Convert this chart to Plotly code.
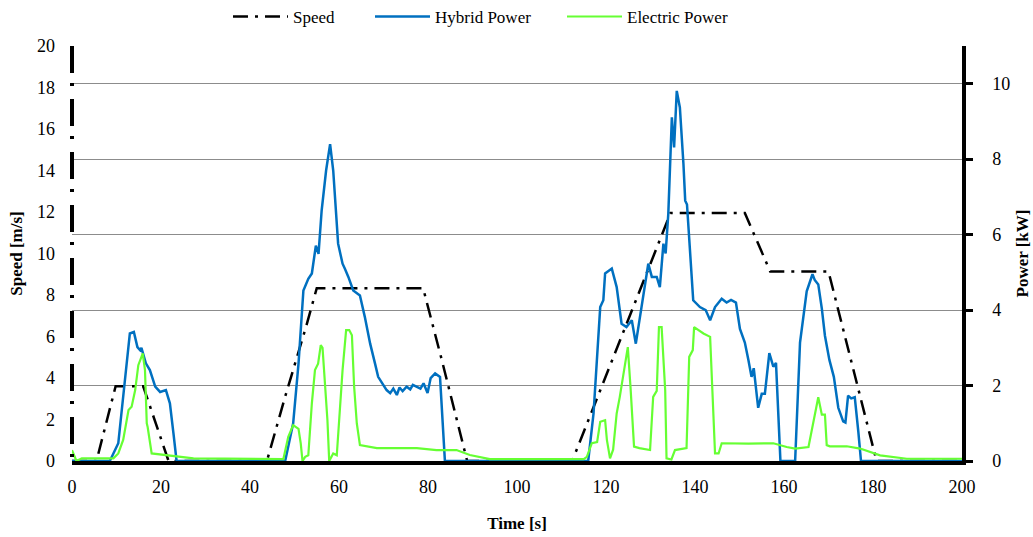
import plotly.graph_objects as go

# ---------------- data ----------------
speed_t = [0, 5.5, 9.8, 16.0, 21.7, 43.8, 47.9, 52.7, 55.0, 78.9, 83.1, 88.8,
           112.4, 134.5, 151.2, 156.9, 170.0, 180.8, 200]
speed_v = [0, 0, 3.6, 3.6, 0, 0, 3.1, 6.55, 8.33, 8.33, 4.87, 0,
           0, 11.95, 11.95, 9.13, 9.13, 0, 0]

hyb_t = [0, 8.5, 10.4, 11.9, 13.0, 13.9, 14.7, 15.3, 15.6, 16.6, 17.5, 18.7, 19.8,
         21.1, 22.0, 22.8, 23.5, 47.9, 49.7, 50.9, 52.0, 53.1, 53.9, 54.8, 55.4,
         56.1, 57.1, 58.0, 58.7, 59.8, 60.8, 61.3, 62.1, 63.2, 64.7, 65.8, 67.0,
         68.1, 68.8, 70.7, 71.5, 72.2, 73.0, 73.6, 74.3, 75.2, 76.0, 76.6, 77.5,
         78.3, 79.0, 79.9, 80.6, 81.6, 82.7, 83.4, 83.8, 116.0, 117.2, 118.7,
         119.4, 119.8, 121.3, 122.4, 123.5, 124.6, 125.8, 126.7, 128.0, 129.5,
         130.3, 131.4, 132.1, 132.9, 133.4, 134.0, 134.8, 135.3, 135.9, 136.6,
         137.4, 137.8, 138.2, 139.6, 141.1, 142.4, 143.4, 144.5, 146.0, 147.1,
         148.1, 149.2, 150.1, 151.2, 152.0, 152.7, 153.2, 154.2, 155.0, 155.7,
         156.7, 157.6, 158.2, 159.2, 162.5, 163.6, 165.1, 166.4, 166.9, 167.7,
         168.5, 169.2, 170.2, 171.2, 172.2, 173.3, 173.8, 174.4, 175.1, 175.9,
         176.7, 177.3, 200]
hyb_p = [0, 0, 0.47, 2.14, 3.38, 3.42, 3.02, 2.94, 3.0, 2.59, 2.41, 1.97, 1.83,
         1.88, 1.53, 0.73, 0, 0, 1.0, 2.58, 4.52, 4.83, 4.97, 5.71, 5.49,
         6.64, 7.7, 8.4, 7.7, 5.76, 5.23, 5.1, 4.88, 4.52, 4.39, 3.82, 3.11,
         2.58, 2.23, 1.88, 1.8, 1.92, 1.75, 1.95, 1.85, 1.97, 1.9, 2.02, 1.97,
         1.92, 2.06, 1.8, 2.2, 2.32, 2.23, 0.82, 0, 0, 1.26, 4.08,
         4.26, 4.97, 5.1, 4.61, 3.64, 3.55, 3.73, 3.11, 4.08, 5.23,
         4.88, 4.88, 4.61, 5.76, 5.5, 6.55, 9.11, 8.31, 9.81, 9.37,
         7.88, 6.9, 6.8, 4.26, 4.08, 4.0, 3.73, 4.08, 4.3, 4.2,
         4.27, 4.2, 3.5, 3.14, 2.68, 2.23, 2.46, 1.41, 1.78, 1.78,
         2.86, 2.5, 2.6, 0, 0, 3.14, 4.5, 4.95, 4.8, 4.68,
         4.04, 3.32, 2.68, 2.23, 1.41, 1.05, 1.02, 1.73, 1.66, 1.69,
         0.78, 0, 0]

ele_t = [0, 1.0, 2.2, 9.3, 10.4, 11.5, 12.7, 13.4, 14.2, 14.9, 15.9, 16.4, 16.8,
         17.0, 17.9, 27.3, 47.5, 48.6, 49.7, 50.9, 51.4, 51.8, 52.4, 53.1, 53.9,
         54.6, 55.3, 55.9, 56.3, 56.9, 57.4, 57.8, 58.7, 59.5, 60.2, 60.8, 61.6,
         62.3, 62.9, 63.4, 64.0, 64.7, 68.5, 73.7, 77.5, 81.9, 86.4, 89.4, 93.9,
         115.0, 115.7, 116.8, 118.0, 118.7, 119.8, 120.2, 120.9, 121.6, 122.4,
         123.1, 123.9, 124.9, 125.5, 126.3, 127.5, 129.9, 130.6, 131.4, 131.9,
         132.5, 133.3, 133.6, 134.7, 135.5, 138.1, 138.7, 139.5, 139.8, 141.9,
         143.4, 143.9, 144.5, 145.3, 146.0, 152.0, 157.6, 160.6, 162.5, 165.5,
         166.6, 167.7, 168.5, 169.2, 169.6, 170.3, 174.1, 177.1, 181.6, 187.6, 200]
ele_p = [0.29, 0, 0.07, 0.07, 0.2, 0.56, 1.35, 1.44, 1.88, 2.54, 2.85, 2.41, 1.0,
         0.9, 0.2, 0.07, 0.05, 0.64, 0.95, 0.85, 0.47, 0, 0.11, 0.15, 1.53,
         2.41, 2.58, 3.07, 3.0, 1.97, 1.08, 0, 0.2, 0.15, 1.35, 2.41, 3.47,
         3.47, 3.33, 1.97, 1.0, 0.42, 0.34, 0.34, 0.34, 0.29, 0.29, 0.16, 0.05,
         0.05, 0.11, 0.47, 0.5, 1.04, 1.08, 0.56, 0.07, 0.3, 1.26,
         1.7, 2.32, 3.02, 1.97, 0.38, 0.34, 0.29, 1.7, 1.86, 3.55,
         3.55, 1.88, 0.07, 0.04, 0.29, 0.34, 2.76, 2.94, 3.55, 3.38,
         3.29, 1.88, 0.2, 0.2, 0.47, 0.46, 0.47, 0.37, 0.33, 0.37,
         1.05, 1.69, 1.23, 1.23, 0.42, 0.39, 0.39, 0.33, 0.15, 0.06, 0.06]

x_ticks = list(range(0, 201, 20))
speed_ticks = list(range(0, 21, 2))
power_ticks = list(range(0, 11, 2))

FONT = "Liberation Serif, Times New Roman, serif"
TICKFONT = dict(family=FONT, size=18, color="black")
TITLEFONT = dict(family=FONT, size=17, color="black")

fig = go.Figure()
fig.add_trace(go.Scatter(x=speed_t, y=speed_v, name="Speed", mode="lines",
                         line=dict(color="black", width=2.5, dash="15px,7px,3px,7px"),
                         yaxis="y", legend="legend"))
fig.add_trace(go.Scatter(x=hyb_t, y=hyb_p, name="Hybrid Power", mode="lines",
                         line=dict(color="#0070C0", width=2.5), yaxis="y2",
                         legend="legend2"))
fig.add_trace(go.Scatter(x=ele_t, y=ele_p, name="Electric Power", mode="lines",
                         line=dict(color="#66FF33", width=2.2), yaxis="y2",
                         legend="legend3"))

def leg(xpx):
    return dict(orientation="h", xref="paper", yref="paper",
                x=(xpx - 72) / 890, xanchor="left", y=1.07, yanchor="middle",
                font=dict(family=FONT, size=17, color="black"),
                bgcolor="rgba(0,0,0,0)", itemwidth=55)

fig.update_layout(
    width=1033, height=537,
    margin=dict(l=72, r=71, t=46, b=76, autoexpand=False),
    paper_bgcolor="white", plot_bgcolor="white",
    font=dict(family=FONT, size=18, color="black"),
    showlegend=True,
    legend=leg(228), legend2=leg(370), legend3=leg(562),
    xaxis=dict(range=[0, 200], tickvals=x_ticks, showgrid=False, zeroline=False,
               showline=True, linecolor="black", linewidth=3.5, automargin=False,
               ticks="", ticklabelstandoff=7, tickfont=TICKFONT,
               title=dict(text="<b>Time [s]</b>", font=TITLEFONT, standoff=22)),
    yaxis=dict(range=[0, 20], tickvals=speed_ticks, showgrid=False, zeroline=False,
               showline=False, ticks="", ticklabelstandoff=16, automargin=False,
               tickfont=TICKFONT,
               title=dict(text="<b>Speed [m/s]</b>", font=TITLEFONT, standoff=10)),
    yaxis2=dict(range=[0, 11], tickvals=power_ticks, overlaying="y", side="right",
                showgrid=True, gridcolor="#8c8c8c", gridwidth=1, zeroline=False,
                showline=True, linecolor="black", linewidth=3.5, automargin=False,
                ticks="outside", ticklen=7, tickwidth=2.5, tickcolor="black",
                ticklabelstandoff=16, tickfont=TICKFONT,
                title=dict(text="<b>Power [kW]</b>", font=TITLEFONT, standoff=8)),
    shapes=[dict(type="line", xref="paper", yref="paper", x0=0, x1=0, y0=1, y1=0,
                 line=dict(color="black", width=4, dash="27px,10px,3px,13px"),
                 layer="above")],
)

fig.write_html("out.html", config={"displayModeBar": False},
               post_script="document.body.style.margin='0px';document.body.style.overflow='hidden';")
